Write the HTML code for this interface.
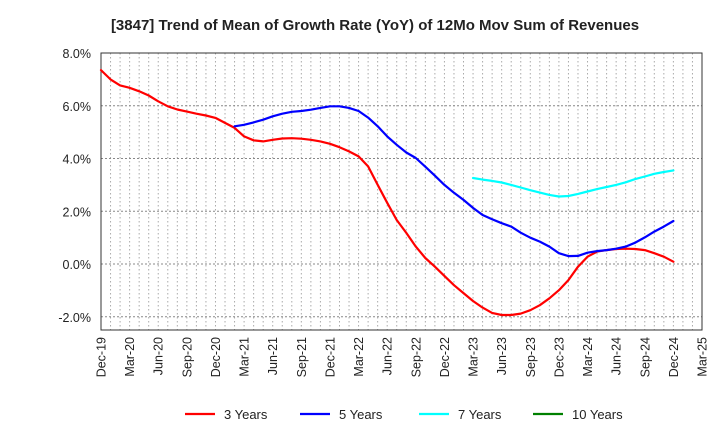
<!DOCTYPE html>
<html><head><meta charset="utf-8"><style>
body{margin:0;background:#fff;}
svg{display:block;font-family:"Liberation Sans",Arial,sans-serif;}
</style></head><body>
<svg id="chart" width="720" height="440" viewBox="0 0 720 440" xmlns="http://www.w3.org/2000/svg">
<text x="375" y="30" text-anchor="middle" font-size="15" font-weight="bold" fill="#222">[3847]  Trend of Mean of Growth Rate (YoY) of 12Mo Mov Sum of Revenues</text>
<g id="grid"></g><g id="axes"></g><g id="series"></g><g id="legend"></g>
</svg>
<script>
const xTickLabels=["Dec-19","Mar-20","Jun-20","Sep-20","Dec-20","Mar-21","Jun-21","Sep-21","Dec-21","Mar-22","Jun-22","Sep-22","Dec-22","Mar-23","Jun-23","Sep-23","Dec-23","Mar-24","Jun-24","Sep-24","Dec-24","Mar-25"];
const yTicks=[-2,0,2,4,6,8];
const series3=[7.35,7.0,6.77,6.68,6.55,6.39,6.17,5.98,5.86,5.78,5.7,5.63,5.54,
5.35,5.16,4.84,4.69,4.65,4.71,4.76,4.77,4.75,4.71,4.65,4.56,
4.43,4.27,4.08,3.7,3.0,2.32,1.67,1.18,0.66,0.23,-0.1,-0.45,
-0.8,-1.1,-1.4,-1.65,-1.85,-1.93,-1.93,-1.88,-1.75,-1.56,-1.3,-0.99,
-0.61,-0.1,0.28,0.47,0.53,0.57,0.58,0.57,0.53,0.41,0.28,0.09];
const series5=[null,null,null,null,null,null,null,null,null,null,null,null,null,null,
5.22,5.28,5.37,5.47,5.6,5.7,5.77,5.8,5.85,5.92,5.98,
5.98,5.92,5.8,5.55,5.22,4.84,4.52,4.23,4.02,3.69,3.35,3.0,
2.7,2.43,2.13,1.86,1.7,1.55,1.42,1.19,1.0,0.85,0.66,0.41,
0.3,0.31,0.43,0.49,0.53,0.58,0.66,0.81,1.01,1.23,1.42,1.63];
const series7=[null,null,null,null,null,null,null,null,null,null,null,null,null,null,null,null,null,null,null,null,null,null,null,null,null,
null,null,null,null,null,null,null,null,null,null,null,null,null,null,
3.26,3.2,3.15,3.09,3.0,2.9,2.8,2.71,2.62,2.56,2.58,2.66,2.75,2.84,2.92,3.0,3.1,3.22,3.32,3.42,3.49,3.55];
const series10=[];
const seriesNames=["3 Years","5 Years","7 Years","10 Years"];
const seriesColors=["#ff0000","#0000ff","#00ffff","#008000"];

const NS="http://www.w3.org/2000/svg";
const L=101,R=702,T=53,B=330,yMin=-2.5,yMax=8,months=63;
const xs=i=>L+(R-L)*i/months;
const ys=v=>T+(yMax-v)/(yMax-yMin)*(B-T);
function mk(tag,attrs,parent){const e=document.createElementNS(NS,tag);for(const k in attrs)e.setAttribute(k,attrs[k]);parent.appendChild(e);return e;}
const grid=document.getElementById('grid'),axes=document.getElementById('axes'),ser=document.getElementById('series'),leg=document.getElementById('legend');
for(let m=1;m<months;m++){const g=mk('line',{x1:xs(m),x2:xs(m),y1:T,y2:B,stroke:'#aaa','stroke-dasharray':'1.5,2.5','stroke-width':1},grid);

}
yTicks.forEach(v=>{const g=mk('line',{x1:L,x2:R,y1:ys(v),y2:ys(v),stroke:'#888','stroke-dasharray':'2,2','stroke-width':1},grid);


const t=mk('text',{x:L-10,y:ys(v)+5,'text-anchor':'end','font-size':12.5,fill:'#222'},axes);
t.textContent=v.toFixed(1)+'%';

});
const frame=mk('rect',{x:L,y:T,width:R-L,height:B-T,fill:'none',stroke:'#333','stroke-width':1},axes);


xTickLabels.forEach((lab,i)=>{const x=xs(i*3);const t=mk('text',{x:0,y:0,transform:`translate(${x+4.5},337) rotate(-90)`,'text-anchor':'end','font-size':12.5,fill:'#222'},axes);
t.textContent=lab;

});
[series3,series5,series7,series10].forEach((arr,si)=>{let d='';let pen=false;arr.forEach((v,i)=>{if(v==null){pen=false;return;}d+=(pen?'L':'M')+xs(i).toFixed(1)+','+ys(v).toFixed(1);pen=true;});
if(!d)return;const p=mk('path',{d:d,fill:'none',stroke:seriesColors[si],'stroke-width':2.2,'stroke-linejoin':'round','stroke-linecap':'round'},ser);

});
const legX=[185,300,419,533];
seriesNames.forEach((n,i)=>{const g=mk('g',{},leg);


mk('line',{x1:legX[i],x2:legX[i]+30,y1:414,y2:414,stroke:seriesColors[i],'stroke-width':2.2},g);
const t=mk('text',{x:legX[i]+39,y:419,'font-size':13,fill:'#222'},g);t.textContent=n;});
</script>
</body></html>
